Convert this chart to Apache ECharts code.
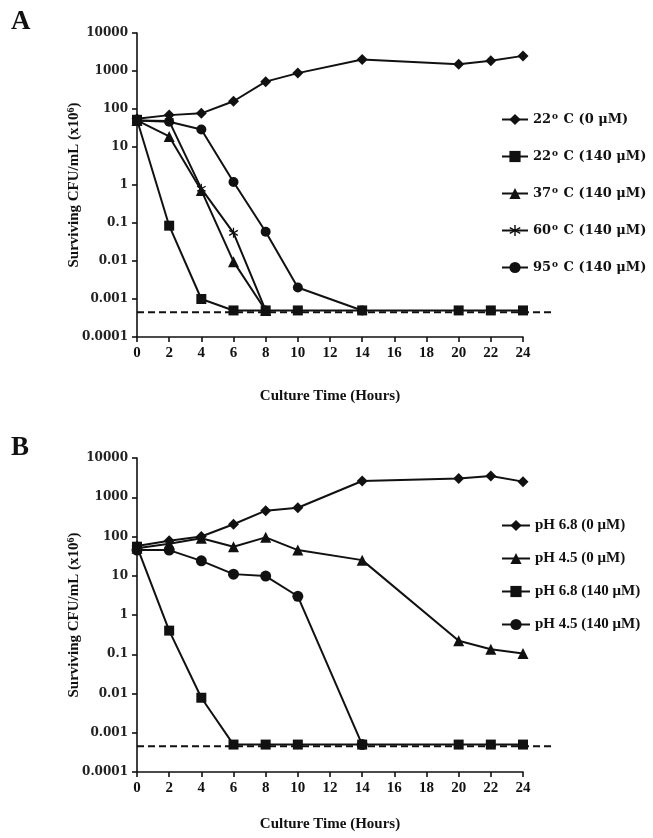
<!DOCTYPE html>
<html><head><meta charset="utf-8">
<script src="https://cdn.jsdelivr.net/npm/echarts@6/dist/echarts.min.js"></script>
<style>html,body{margin:0;padding:0;background:#fff}#c{width:653px;height:838px}</style>
</head><body><div id="c"></div>
<script>
// ---- tick labels ----
const xTicks = ['0','2','4','6','8','10','12','14','16','18','20','22','24'];
const yTicks = ['0.0001','0.001','0.01','0.1','1','10','100','1000','10000'];
const detectionLimit = 0.00045;
const dashHours = [0, 25.8];

// ---- Panel A (temperature) ----
const namesA = ['22° C (0 μM)','22° C (140 μM)','37° C (140 μM)','60° C (140 μM)','95° C (140 μM)'];
const hoursA1 = [0,2,4,6,8,10,14,20,22,24];
const valsA1  = [55,69,77,160,525,880,2000,1500,1870,2500];
const hoursA2 = [0,2,4,6,8,10,14,20,22,24];
const valsA2  = [52,0.085,0.001,0.0005,0.0005,0.0005,0.0005,0.0005,0.0005,0.0005];
const hoursA3 = [0,2,4,6,8];
const valsA3  = [50,19,0.72,0.0096,0.0005];
const hoursA4 = [0,2,4,6,8];
const valsA4  = [50,48,0.8,0.055,0.0005];
const hoursA5 = [0,2,4,6,8,10,14];
const valsA5  = [50,46,29,1.2,0.059,0.002,0.0005];

// ---- Panel B (pH) ----
const namesB = ['pH 6.8 (0 μM)','pH 4.5 (0 μM)','pH 6.8 (140 μM)','pH 4.5 (140 μM)'];
const hoursB1 = [0,2,4,6,8,10,14,20,22,24];
const valsB1  = [57,78,100,205,455,540,2600,3000,3500,2500];
const hoursB2 = [0,2,4,6,8,10,14,20,22,24];
const valsB2  = [50,65,90,55,95,45,25,0.22,0.134,0.105];
const hoursB3 = [0,2,4,6,8,10,14,20,22,24];
const valsB3  = [55,0.4,0.0078,0.0005,0.0005,0.0005,0.0005,0.0005,0.0005,0.0005];
const hoursB4 = [0,2,4,6,8,10,14];
const valsB4  = [45,45,24,11,9.8,3.0,0.0005];

const star = 'path://M-1.2,-10L1.2,-10L1.2,10L-1.2,10Z M8.06,-6.04L9.26,-3.96L-8.06,6.04L-9.26,3.96Z M-9.26,-3.96L-8.06,-6.04L9.26,3.96L8.06,6.04Z';

const INK = '#111';
const SERIF = '"Liberation Serif", "Times New Roman", serif';
const WIDE = '"DejaVu Serif", serif';

const PLOT_W = 386;
const gridsMain = [{left:137, top:33, width:PLOT_W, height:304}, {left:137, top:458, width:PLOT_W, height:314}];
// overlay grids for the dashed detection-limit line, which runs past 24 h
const gridsDash = gridsMain.map(g => Object.assign({}, g, {width: PLOT_W * dashHours[1] / 24}));

function zip(xs, ys){ return xs.map((x,i)=>[x, ys[i]]); }
function mk(name, xs, ys, symbol, size, gi){
  return { name, type:'line', xAxisIndex:gi, yAxisIndex:gi, data: zip(xs, ys),
    symbol, symbolSize:size, symbolKeepAspect:true,
    lineStyle:{color:INK, width:2}, itemStyle:{color:INK, borderWidth:0},
    z: 3, animation:false };
}
function dash(ai){
  return { name:'limit'+ai, type:'line', xAxisIndex:ai, yAxisIndex:ai,
    data: zip(dashHours, [detectionLimit, detectionLimit]), symbol:'none',
    lineStyle:{color:INK, width:2, type:[7,4]}, z:2, silent:true, animation:false };
}
function xAx(gi, gap){
  return { type:'value', gridIndex:gi, min:0, max:24, interval:2,
    name:'Culture Time (Hours)', nameLocation:'middle', nameGap:gap, nameMoveOverlap:false,
    nameTextStyle:{fontFamily:SERIF, fontWeight:'bold', fontSize:15, color:INK},
    axisLine:{lineStyle:{color:INK, width:1.6}},
    axisTick:{length:5, lineStyle:{color:INK, width:1.6}},
    splitLine:{show:false},
    axisLabel:{fontFamily:SERIF, fontWeight:'bold', fontSize:15, color:INK, margin:9,
      formatter:(v, i)=>xTicks[i]} };
}
function yAx(gi){
  return { type:'log', logBase:10, gridIndex:gi, min:0.0001, max:10000,
    name:'{n|Surviving CFU/mL (x10}{s|6}{n|)}', nameLocation:'middle', nameGap:55, nameRotate:90,
    nameMoveOverlap:false,
    nameTextStyle:{ rich:{
      n:{fontFamily:SERIF, fontWeight:'bold', fontSize:15, color:INK, lineHeight:16},
      s:{fontFamily:SERIF, fontWeight:'bold', fontSize:10, color:INK, lineHeight:16, verticalAlign:'top'} } },
    axisLine:{lineStyle:{color:INK, width:1.6}},
    axisTick:{length:5, lineStyle:{color:INK, width:1.6}},
    splitLine:{show:false}, minorTick:{show:false},
    axisLabel:{fontFamily:WIDE, fontWeight:'bold', fontSize:12, color:'#222', margin:9,
      formatter:(v, i)=>yTicks[i]} };
}
function xDash(gi){ return {type:'value', gridIndex:gi, min:dashHours[0], max:dashHours[1], show:false}; }
function yDash(gi){ return {type:'log', logBase:10, gridIndex:gi, min:0.0001, max:10000, show:false}; }
function legendFmt(name){
  const k = name.indexOf('°');
  if (k < 0) return '{t|' + name + '}';
  return '{t|' + name.slice(0,k) + '}{s|o}{t|' + name.slice(k+1) + '}';
}
const legRichA = {
  t:{fontFamily:WIDE, fontWeight:'bold', fontSize:13, color:INK, lineHeight:15},
  s:{fontFamily:WIDE, fontWeight:'bold', fontSize:9, color:INK, lineHeight:15, verticalAlign:'top', padding:[0,1,0,1]}
};
const legRichB = {
  t:{fontFamily:SERIF, fontWeight:'bold', fontSize:15, color:INK, lineHeight:15}
};

const chart = echarts.init(document.getElementById('c'), null, {renderer:'canvas'});
chart.setOption({
  backgroundColor:'#fff',
  animation:false,
  title:[
    {text:'A', left:6, top:4, textStyle:{fontFamily:SERIF, fontWeight:'bold', fontSize:27, color:INK}},
    {text:'B', left:6, top:430, textStyle:{fontFamily:SERIF, fontWeight:'bold', fontSize:27, color:INK}}
  ],
  grid: gridsMain.concat(gridsDash),
  xAxis:[xAx(0, 52), xAx(1, 45), xDash(2), xDash(3)],
  yAxis:[yAx(0), yAx(1), yDash(2), yDash(3)],
  legend:[
    {data:namesA, orient:'vertical', left:496, top:107, itemWidth:26, itemHeight:14, itemGap:23,
     formatter:legendFmt, textStyle:{rich:legRichA}, selectedMode:false},
    {data:namesB, orient:'vertical', left:496, top:513, itemWidth:28, itemHeight:14, itemGap:18,
     formatter:legendFmt, textStyle:{rich:legRichB}, selectedMode:false}
  ],
  series:[
    dash(2), dash(3),
    mk(namesA[4], hoursA5, valsA5, 'circle', 10, 0),
    mk(namesA[3], hoursA4, valsA4, star, 10, 0),
    mk(namesA[2], hoursA3, valsA3, 'triangle', 11, 0),
    mk(namesA[0], hoursA1, valsA1, 'diamond', 11, 0),
    mk(namesA[1], hoursA2, valsA2, 'rect', 10, 0),
    mk(namesB[3], hoursB4, valsB4, 'circle', 11, 1),
    mk(namesB[1], hoursB2, valsB2, 'triangle', 11, 1),
    mk(namesB[0], hoursB1, valsB1, 'diamond', 11, 1),
    mk(namesB[2], hoursB3, valsB3, 'rect', 10, 1)
  ]
});
</script></body></html>
